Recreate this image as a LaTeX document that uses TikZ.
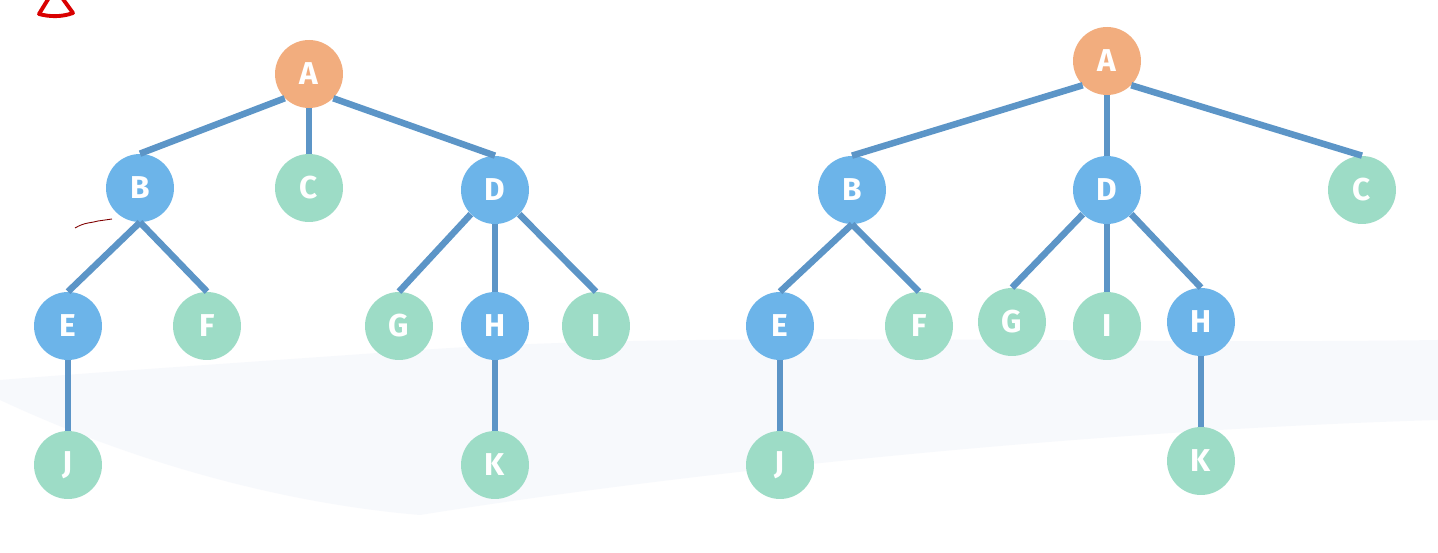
\documentclass[tikz,border=0pt]{standalone}
\usepackage{fontspec}
\setsansfont{Fira Sans}[BoldFont={Fira Sans Bold}]
\definecolor{rootorange}{HTML}{F2AD7E}
\definecolor{innerblue}{HTML}{6CB4E9}
\definecolor{leafgreen}{HTML}{9DDCC6}
\definecolor{edgeblue}{HTML}{5C95C7}
\definecolor{haze}{HTML}{EEF2FA}

\begin{document}
\begin{tikzpicture}[
  x=0.02cm, y=-0.02cm,
  vertex/.style={circle, minimum size=1.36cm, inner sep=0pt, text=white,
    font=\sffamily\bfseries\fontsize{18}{18}\selectfont},
  root/.style={vertex, fill=rootorange},
  inner/.style={vertex, fill=innerblue},
  leaf/.style={vertex, fill=leafgreen},
  link/.style={edgeblue, line width=3.7pt}
]
  \useasboundingbox (0,0) rectangle (1438,553);
  \fill[white] (0,0) rectangle (1438,553);
  % faint background band
  \fill[haze, opacity=.45] (0,400) .. controls (150,470) and (300,505) .. (420,515)
    .. controls (700,470) and (1100,430) .. (1438,420) -- (1438,340)
    .. controls (1100,345) and (700,330) .. (420,350)
    .. controls (250,362) and (100,372) .. (0,380) -- cycle;

  % first tree
  \node[root] (lA) at (309,74) {A};
  \node[inner] (lB) at (140,188) {B};
  \node[leaf] (lC) at (309,188) {C};
  \node[inner] (lD) at (495,190) {D};
  \node[inner] (lE) at (68,326) {E};
  \node[leaf] (lF) at (207,326) {F};
  \node[leaf] (lG) at (399,326) {G};
  \node[inner] (lH) at (495,326) {H};
  \node[leaf] (lI) at (596,326) {I};
  \node[leaf] (lJ) at (68,465) {J};
  \node[leaf] (lK) at (495,465) {K};

  \draw[link] (lA.south west) -- (lB.north);
  \draw[link] (lA.south) -- (lC.north);
  \draw[link] (lA.south east) -- (lD.north);
  \draw[link] (lB.south) -- (lE.north);
  \draw[link] (lB.south) -- (lF.north);
  \draw[link] (lD.south west) -- (lG.north);
  \draw[link] (lD.south) -- (lH.north);
  \draw[link] (lD.south east) -- (lI.north);
  \draw[link] (lE.south) -- (lJ.north);
  \draw[link] (lH.south) -- (lK.north);

  % second tree
  \node[root] (rA) at (1107,61) {A};
  \node[inner] (rB) at (852,190) {B};
  \node[inner] (rD) at (1107,190) {D};
  \node[leaf] (rC) at (1362,190) {C};
  \node[inner] (rE) at (780,326) {E};
  \node[leaf] (rF) at (919,326) {F};
  \node[leaf] (rG) at (1012,322) {G};
  \node[leaf] (rI) at (1107,326) {I};
  \node[inner] (rH) at (1201,322) {H};
  \node[leaf] (rJ) at (780,465) {J};
  \node[leaf] (rK) at (1201,461) {K};

  \draw[link] (rA.south west) -- (rB.north);
  \draw[link] (rA.south) -- (rD.north);
  \draw[link] (rA.south east) -- (rC.north);
  \draw[link] (rB.south) -- (rE.north);
  \draw[link] (rB.south) -- (rF.north);
  \draw[link] (rD.south west) -- (rG.north);
  \draw[link] (rD.south) -- (rI.north);
  \draw[link] (rD.south east) -- (rH.north);
  \draw[link] (rE.south) -- (rJ.north);
  \draw[link] (rH.south) -- (rK.north);

  % red pen marks
  \begin{scope}
    \clip (0,0) rectangle (1438,553);
    \draw[red!85!black, line width=2.2pt, line join=round]
      (55,-12) -- (39,14) .. controls (50,17) and (62,17) .. (73,13) -- cycle;
    \draw[red!50!black, line width=.5pt]
      (75,228) .. controls (85,222) and (92,223) .. (98,221) -- (112,219);
  \end{scope}
\end{tikzpicture}
\end{document}
